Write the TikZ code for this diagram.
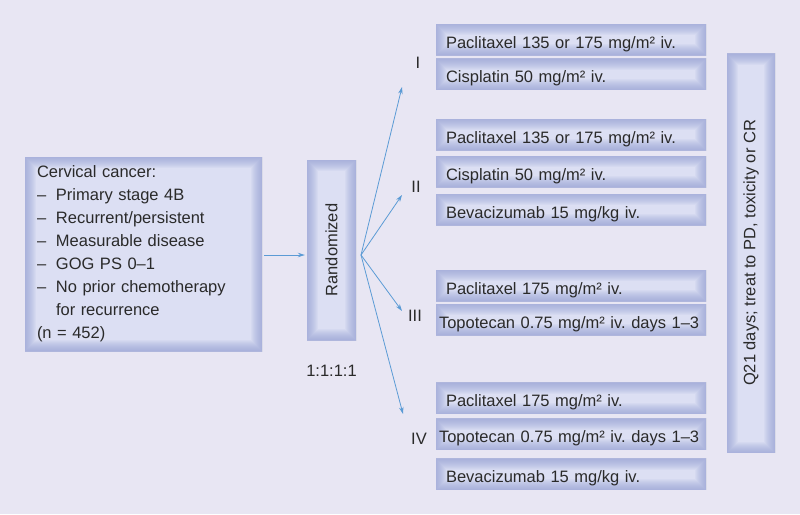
\documentclass[tikz,border=0pt]{standalone}
\usepackage{fontspec}
\setmainfont{Liberation Sans}
\usetikzlibrary{arrows.meta}
\definecolor{bgc}{HTML}{E8E6F3}
\definecolor{boxfill}{HTML}{DCDFF3}
\definecolor{boxedge}{HTML}{8E9BD2}
\definecolor{arrc}{HTML}{5B9BD5}
\definecolor{txt}{HTML}{2A2A2A}
\frenchspacing
\tikzset{
  shadebox/.style={fill=boxfill, draw=none, inner sep=0pt, text=txt,
    font=\fontsize{16.5}{23}\selectfont,
    path picture={
      \foreach \w in {2,4,...,22}{
        \draw[boxedge, opacity=0.08, line width=\w pt] (path picture bounding box.south west) rectangle (path picture bounding box.north east);
      }
    }},
  drug/.style={shadebox, minimum width=270pt, minimum height=31pt, text width=250pt,
    align=left, inner xsep=10pt, text height=17pt, text depth=0pt},
  drugwide/.style={drug, text width=264pt, inner xsep=3pt},
  arm/.style={text=txt, font=\fontsize{16.5}{20}\selectfont, inner sep=0pt},
  conn/.style={draw=arrc, line width=0.8pt, -{Stealth[length=7pt,width=4.5pt]}}
}
\newcommand{\dashitem}[1]{\makebox[19pt][l]{–}#1}
\begin{document}
\begin{tikzpicture}[x=1pt, y=-1pt]
\fill[bgc] (0,0) rectangle (800,514);
\useasboundingbox (0,0) rectangle (800,514);

% left box
\node[shadebox, minimum width=237pt, minimum height=194pt, text width=213pt, align=left, inner xsep=12pt] (crit) at (143.5,254)
 {Cervical cancer:\\
  \dashitem{Primary stage 4B}\\
  \dashitem{Recurrent/persistent}\\
  \dashitem{Measurable disease}\\
  \dashitem{GOG PS 0–1}\\
  \dashitem{No prior chemotherapy}\\
  \hspace*{19pt}for recurrence\\
  (n = 452)};

% randomized
\node[shadebox, minimum width=49pt, minimum height=180pt] (rand) at (331.5,250) {\rotatebox{90}{Randomized}};
\node[arm] (ratio) at (331.5,371) {1:1:1:1};

% Q21 box
\node[shadebox, minimum width=48pt, minimum height=399pt] (q21) at (751,253) {\rotatebox{90}{Q21 days; treat to PD, toxicity or CR}};

% group I
\node[drug] (a1) at (571,39.5) {Paclitaxel 135 or 175 mg/m² iv.};
\node[drug] (a2) at (571,74) {Cisplatin 50 mg/m² iv.};
% group II
\node[drug] (b1) at (571,134.5) {Paclitaxel 135 or 175 mg/m² iv.};
\node[drug] (b2) at (571,171.5) {Cisplatin 50 mg/m² iv.};
\node[drug] (b3) at (571,209.5) {Bevacizumab 15 mg/kg iv.};
% group III
\node[drug] (c1) at (571,285.5) {Paclitaxel 175 mg/m² iv.};
\node[drugwide] (c2) at (571,319.5) {Topotecan 0.75 mg/m² iv. days 1–3};
% group IV
\node[drug] (d1) at (571,398) {Paclitaxel 175 mg/m² iv.};
\node[drugwide] (d2) at (571,434) {Topotecan 0.75 mg/m² iv. days 1–3};
\node[drug] (d3) at (571,474) {Bevacizumab 15 mg/kg iv.};

% arm labels
\node[arm] (lI) at (418,63) {I};
\node[arm] (lII) at (416,187) {II};
\node[arm] (lIII) at (415,316) {III};
\node[arm] (lIV) at (419,439) {IV};

% connectors
\coordinate (fan) at (361,255);
\coordinate (tI) at (402,87);
\coordinate (tII) at (402,195);
\coordinate (tIII) at (402,311);
\coordinate (tIV) at (403,414);
\draw[conn, shorten <=2pt, shorten >=2pt] (crit.east |- 0,255) -- (rand.west |- 0,255);
\draw[conn] (fan) -- (tI);
\draw[conn] (fan) -- (tII);
\draw[conn] (fan) -- (tIII);
\draw[conn] (fan) -- (tIV);
\end{tikzpicture}
\end{document}
